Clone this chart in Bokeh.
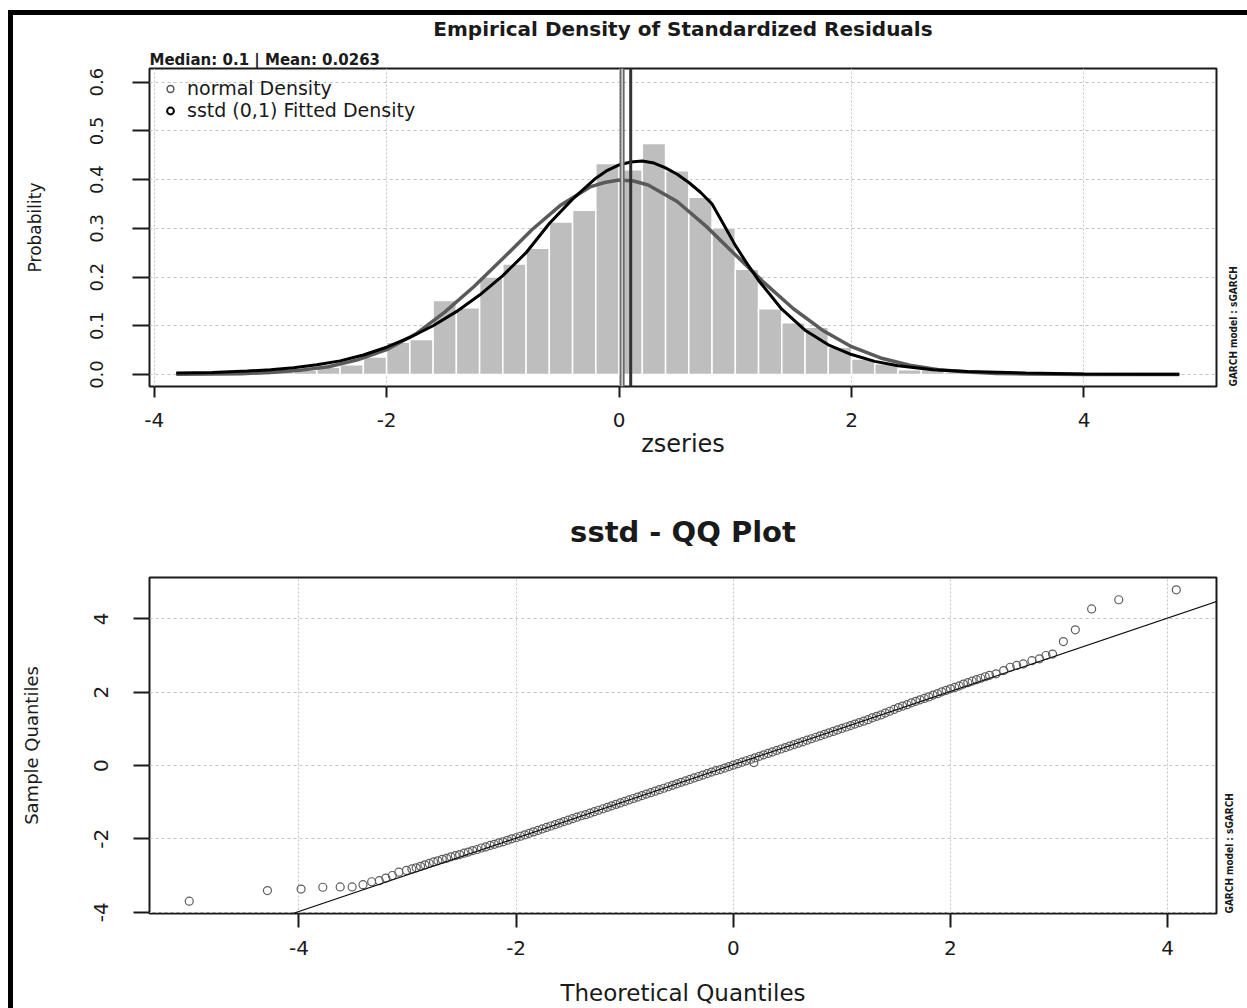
import math
from bokeh.plotting import figure
from bokeh.models import (Range1d, FixedTicker, PrintfTickFormatter, Span, Title,
                          Legend, LegendItem, Slope, Spacer, LinearAxis)
from bokeh.layouts import column, row
from bokeh.embed import file_html
from bokeh.resources import INLINE

FONT = "DejaVu Sans"
NARROW = "Liberation Sans Narrow, DejaVu Sans Condensed, Liberation Sans"

# ---------------- data: density panel ----------------
bin_width = 0.2
bin_left = [-3.6, -3.4, -3.2, -3.0, -2.8, -2.6, -2.4, -2.2, -2.0, -1.8, -1.6, -1.4,
            -1.2, -1.0, -0.8, -0.6, -0.4, -0.2, 0.0, 0.2, 0.4, 0.6, 0.8, 1.0,
            1.2, 1.4, 1.6, 1.8, 2.0, 2.2, 2.4, 2.6, 2.8, 3.0]
bin_density = [0.002, 0.003, 0.004, 0.006, 0.009, 0.015, 0.020, 0.036, 0.066, 0.072,
               0.152, 0.137, 0.200, 0.227, 0.259, 0.313, 0.337, 0.433, 0.420, 0.474,
               0.418, 0.364, 0.301, 0.216, 0.135, 0.106, 0.097, 0.056, 0.032, 0.022,
               0.010, 0.010, 0.005, 0.002]

norm_x = [-3.81, -3.5, -3.25, -3.0, -2.75, -2.5, -2.25, -2.0, -1.75, -1.5, -1.25, -1.0,
          -0.75, -0.5, -0.25, -0.125, 0.0, 0.125, 0.25, 0.5, 0.75, 1.0, 1.25, 1.5,
          1.75, 2.0, 2.25, 2.5, 2.75, 3.0, 3.25, 3.5, 4.0, 4.5, 4.82]
norm_y = [0.0003, 0.0008, 0.0018, 0.004, 0.0085, 0.016, 0.030, 0.051, 0.083, 0.128,
          0.180, 0.238, 0.297, 0.348, 0.385, 0.394, 0.399, 0.397, 0.389, 0.355, 0.304,
          0.246, 0.188, 0.135, 0.091, 0.057, 0.034, 0.019, 0.010, 0.005, 0.0023, 0.001,
          0.0002, 0.0, 0.0]

sstd_x = [-3.81, -3.5, -3.2, -3.0, -2.8, -2.6, -2.4, -2.2, -2.0, -1.8, -1.6, -1.4, -1.2,
          -1.0, -0.8, -0.6, -0.4, -0.2, -0.1, 0.0, 0.1, 0.2, 0.3, 0.4, 0.5, 0.6, 0.7,
          0.8, 0.9, 1.0, 1.1, 1.2, 1.4, 1.6, 1.8, 2.0, 2.2, 2.4, 2.7, 3.0, 3.5, 4.0,
          4.5, 4.82]
sstd_y = [0.003, 0.004, 0.007, 0.010, 0.014, 0.020, 0.028, 0.040, 0.056, 0.076, 0.100,
          0.129, 0.163, 0.203, 0.250, 0.310, 0.360, 0.403, 0.419, 0.430, 0.436, 0.438,
          0.434, 0.424, 0.411, 0.394, 0.374, 0.350, 0.308, 0.265, 0.228, 0.193, 0.134,
          0.091, 0.061, 0.041, 0.027, 0.018, 0.010, 0.006, 0.003, 0.001, 0.0005, 0.0003]

median_val = 0.1
mean_val = 0.0263
top_x_ticks = [-4, -2, 0, 2, 4]
top_y_ticks = [0.0, 0.1, 0.2, 0.3, 0.4, 0.5, 0.6]
side_note = "GARCH model : sGARCH"

# ---------------- data: QQ panel ----------------
qq_theo = [-5.01, -4.29, -3.98, -3.78, -3.62, -3.51, -3.41, -3.33, -3.26, -3.20, -3.14,
           -3.08, -3.01,
           -2.96, -2.92, -2.88, -2.84, -2.80, -2.76, -2.72, -2.68, -2.64, -2.60,
           -2.56, -2.52, -2.48, -2.44, -2.40, -2.36, -2.32, -2.28, -2.24, -2.20,
           -2.16, -2.12, -2.08, -2.04, -2.00, -1.96, -1.92, -1.88, -1.84, -1.80,
           -1.76, -1.72, -1.68, -1.64, -1.60, -1.56, -1.52, -1.48, -1.44, -1.40,
           -1.36, -1.32, -1.28, -1.24, -1.20, -1.16, -1.12, -1.08, -1.04, -1.00,
           -0.96, -0.92, -0.88, -0.84, -0.80, -0.76, -0.72, -0.68, -0.64, -0.60,
           -0.56, -0.52, -0.48, -0.44, -0.40, -0.36, -0.32, -0.28, -0.24, -0.20,
           -0.16, -0.12, -0.08, -0.04, 0.00, 0.04, 0.08, 0.12, 0.16, 0.20,
           0.24, 0.28, 0.32, 0.36, 0.40, 0.44, 0.48, 0.52, 0.56, 0.60,
           0.64, 0.68, 0.72, 0.76, 0.80, 0.84, 0.88, 0.92, 0.96, 1.00,
           1.04, 1.08, 1.12, 1.16, 1.20, 1.24, 1.28, 1.32, 1.36, 1.40,
           1.44, 1.48, 1.52, 1.56, 1.60, 1.64, 1.68, 1.72, 1.76, 1.80,
           1.84, 1.88, 1.92, 1.96, 2.00, 2.04, 2.08, 2.12, 2.16, 2.20,
           2.24, 2.28, 2.32, 2.36,
           2.42, 2.49, 2.55, 2.61, 2.67, 2.75, 2.82, 2.88, 2.94, 3.04, 3.15, 3.30,
           3.55, 4.08,
           0.19]
qq_sample = [-3.70, -3.41, -3.37, -3.32, -3.31, -3.31, -3.25, -3.17, -3.14, -3.07, -3.00,
             -2.91, -2.86,
             -2.82, -2.79, -2.75, -2.71, -2.67, -2.63, -2.60, -2.56, -2.53, -2.49,
             -2.46, -2.43, -2.39, -2.36, -2.32, -2.29, -2.25, -2.22, -2.18, -2.15,
             -2.11, -2.08, -2.04, -2.00, -1.97, -1.93, -1.89, -1.85, -1.81, -1.77,
             -1.73, -1.69, -1.65, -1.61, -1.57, -1.53, -1.49, -1.45, -1.41, -1.37,
             -1.34, -1.30, -1.26, -1.22, -1.18, -1.14, -1.10, -1.06, -1.02, -0.98,
             -0.94, -0.90, -0.86, -0.82, -0.78, -0.74, -0.70, -0.66, -0.62, -0.58,
             -0.54, -0.50, -0.46, -0.42, -0.38, -0.34, -0.30, -0.26, -0.22, -0.18,
             -0.14, -0.11, -0.07, -0.03, 0.01, 0.05, 0.09, 0.13, 0.17, 0.21,
             0.25, 0.29, 0.33, 0.37, 0.41, 0.45, 0.49, 0.53, 0.57, 0.61,
             0.65, 0.69, 0.73, 0.77, 0.81, 0.85, 0.89, 0.93, 0.97, 1.01,
             1.05, 1.09, 1.13, 1.17, 1.21, 1.25, 1.30, 1.34, 1.38, 1.43,
             1.48, 1.53, 1.58, 1.62, 1.66, 1.71, 1.75, 1.79, 1.83, 1.87,
             1.92, 1.96, 2.01, 2.05, 2.09, 2.13, 2.17, 2.22, 2.26, 2.30,
             2.34, 2.38, 2.42, 2.46,
             2.50, 2.59, 2.68, 2.73, 2.77, 2.86, 2.91, 3.00, 3.04, 3.38, 3.70, 4.27,
             4.52, 4.79,
             0.08]
qq_slope = 1.0
qq_intercept = 0.02
qq_ticks = [-4, -2, 0, 2, 4]


def style_axes(p, xtick_out, ytick_out):
    for ax in (p.xaxis[0], p.yaxis[0]):
        ax.axis_line_color = None
        ax.major_tick_line_color = "#1a1a1a"
        ax.major_tick_line_width = 2
        ax.major_tick_in = 0
        ax.minor_tick_line_color = None
        ax.major_label_text_font = FONT
        ax.major_label_text_color = "#1a1a1a"
        ax.axis_label_text_font = FONT
        ax.axis_label_text_font_style = "normal"
        ax.axis_label_text_color = "#1a1a1a"
    p.xaxis[0].major_tick_out = xtick_out
    p.yaxis[0].major_tick_out = ytick_out
    p.yaxis[0].major_label_orientation = "vertical"
    for g in (p.xgrid[0], p.ygrid[0]):
        g.grid_line_color = "#c4c4c4"
        g.grid_line_width = 1
    p.xgrid[0].grid_line_dash = "2 2"
    p.ygrid[0].grid_line_dash = "3 3"
    p.outline_line_color = "#1a1a1a"
    p.outline_line_width = 2
    p.background_fill_color = "white"
    p.border_fill_color = "white"


def add_side_note(p, standoff):
    # like R's mtext(side = 4, adj = 0): starts at the bottom edge, reads upwards
    ax = LinearAxis(axis_label=side_note, ticker=FixedTicker(ticks=[]),
                    axis_line_color=None, major_tick_line_color=None,
                    minor_tick_line_color=None, major_tick_out=0, major_tick_in=0,
                    major_label_standoff=0, axis_label_standoff=standoff,
                    axis_label_text_font=NARROW, axis_label_text_font_size="10px",
                    axis_label_text_font_style="bold", axis_label_text_color="#1a1a1a")
    try:
        ax.axis_label_orientation = math.pi / 2
    except Exception:
        pass
    try:
        ax.axis_label_align = "start"
    except Exception:
        pass
    p.add_layout(ax, "right")


# ---------------- top figure ----------------
p1 = figure(width=1234, height=470, x_range=Range1d(-4.04, 5.14),
            y_range=Range1d(-0.0246, 0.628), output_backend="svg",
            toolbar_location=None, title=None,
            min_border_left=134, min_border_right=30, min_border_top=68,
            min_border_bottom=84)
style_axes(p1, 11, 17)
# transparent border so that the page's black top rule (css background) shows
p1.border_fill_color = None
p1.styles = {"background": "linear-gradient(to bottom, white 0px, white 10px, "
                           "black 10px, black 15px, white 15px)"}
p1.xaxis.ticker = FixedTicker(ticks=top_x_ticks)
p1.yaxis.ticker = FixedTicker(ticks=top_y_ticks)
p1.xaxis.formatter = PrintfTickFormatter(format="%d")
p1.yaxis.formatter = PrintfTickFormatter(format="%.1f")
p1.xaxis.major_label_text_font_size = "20px"
p1.yaxis.major_label_text_font_size = "18px"
p1.xaxis.major_label_standoff = 15
p1.yaxis.major_label_standoff = 29
p1.xaxis.axis_label = "zseries"
p1.xaxis.axis_label_text_font_size = "24px"
p1.xaxis.axis_label_standoff = 0
p1.yaxis.axis_label = "Probability"
p1.yaxis.axis_label_text_font_size = "17px"
p1.yaxis.axis_label_standoff = 43

bin_right = [b + bin_width for b in bin_left]
p1.quad(left=bin_left, right=bin_right, bottom=0, top=bin_density,
        fill_color="#bebebe", line_color="white", line_width=1.5)
p1.line(norm_x, norm_y, line_color="#5a5a5a", line_width=3.5)
p1.line(sstd_x, sstd_y, line_color="#000000", line_width=3)

p1.add_layout(Span(location=mean_val, dimension="height", line_color="#6a6a6a", line_width=5))
p1.add_layout(Span(location=mean_val, dimension="height", line_color="#d8d8d8", line_width=1.5))
p1.add_layout(Span(location=median_val, dimension="height", line_color="#333333", line_width=3))

# legend keys (renderers hidden from the plot, only their key is drawn)
r_n = p1.scatter(x=[norm_x[16]], y=[norm_y[16]], marker="circle", size=6,
                 fill_color=None, line_color="#555555", line_width=1.5, visible=False)
r_s = p1.scatter(x=[sstd_x[21]], y=[sstd_y[21]], marker="circle", size=6,
                 fill_color=None, line_color="#000000", line_width=2, visible=False)
legend = Legend(items=[LegendItem(label="normal Density", renderers=[r_n]),
                       LegendItem(label="sstd (0,1) Fitted Density", renderers=[r_s])],
                location="top_left", border_line_color=None, background_fill_alpha=0,
                padding=9, margin=9, spacing=0, glyph_width=24, glyph_height=17,
                label_height=17, label_standoff=5, label_text_font_size="19px",
                label_text_font=FONT, label_text_color="#1a1a1a",
                inactive_fill_alpha=0)
p1.add_layout(legend)

p1.add_layout(Title(text=f"Median: {median_val} | Mean: {mean_val}", align="left",
                    text_font_size="15px", text_font_style="bold", text_font=FONT,
                    standoff=0, text_color="#1a1a1a"), "above")
p1.add_layout(Title(text="Empirical Density of Standardized Residuals", align="center",
                    text_font_size="20px", text_font_style="bold", text_font=FONT,
                    standoff=15, text_color="#1a1a1a"), "above")
add_side_note(p1, 17)

# ---------------- bottom figure ----------------
p2 = figure(width=1234, height=538, x_range=Range1d(-5.376, 4.45),
            y_range=Range1d(-4.036, 5.127), output_backend="svg",
            toolbar_location=None, title=None,
            min_border_left=136, min_border_right=26, min_border_top=107,
            min_border_bottom=95)
style_axes(p2, 14, 16)
p2.xaxis.ticker = FixedTicker(ticks=qq_ticks)
p2.yaxis.ticker = FixedTicker(ticks=qq_ticks)
p2.xaxis.formatter = PrintfTickFormatter(format="%d")
p2.yaxis.formatter = PrintfTickFormatter(format="%d")
p2.xaxis.major_label_text_font_size = "20px"
p2.yaxis.major_label_text_font_size = "20px"
p2.xaxis.major_label_standoff = 13
p2.yaxis.major_label_standoff = 25
p2.xaxis.axis_label = "Theoretical Quantiles"
p2.xaxis.axis_label_text_font_size = "23px"
p2.xaxis.axis_label_standoff = 22
p2.yaxis.axis_label = "Sample Quantiles"
p2.yaxis.axis_label_text_font_size = "18px"
p2.yaxis.axis_label_standoff = 50

p2.scatter(qq_theo, qq_sample, marker="circle", size=8, fill_color=None,
           line_color="#5e5e5e", line_width=1.2)
p2.add_layout(Slope(gradient=qq_slope, y_intercept=qq_intercept, line_color="#111111",
                    line_width=1.2))
p2.add_layout(Title(text="sstd - QQ Plot", align="center", text_font_size="29px",
                    text_font_style="bold", text_font=FONT, standoff=57,
                    text_color="#1a1a1a"), "above")
add_side_note(p2, 13)

# ---------------- page frame (black rule on the left) ----------------
left_gap = Spacer(width=8, height=1008)
left_bar = Spacer(width=5, height=1008,
                  styles={"background": "linear-gradient(to bottom, white 10px, black 10px)"})
layout = row(left_gap, left_bar, column(p1, p2))

open("out.html", "w").write(file_html(layout, INLINE))
